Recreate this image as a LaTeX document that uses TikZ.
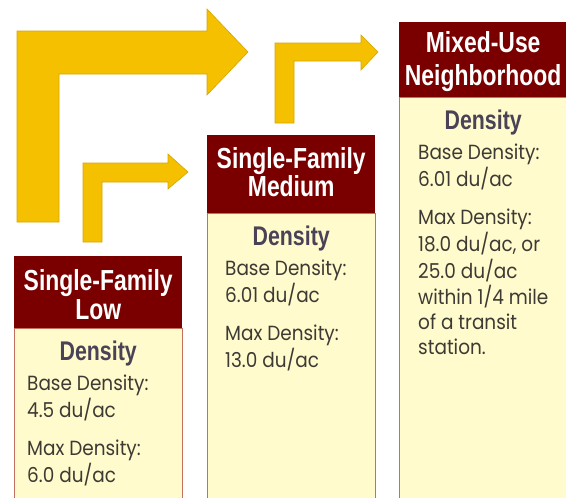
\documentclass[tikz,border=0pt]{standalone}
\usepackage{fontspec}
\newfontfamily\headfont[FakeStretch=0.79]{Liberation Sans}
\newfontfamily\infofont[FakeStretch=0.9]{Poppins}
\usetikzlibrary{positioning}
\definecolor{maroon}{HTML}{7A0000}
\definecolor{cream}{HTML}{FFFBCC}
\definecolor{panelline}{HTML}{C4705F}
\definecolor{arrowfill}{HTML}{F5C000}
\definecolor{arrowline}{HTML}{D6A600}
\definecolor{denscol}{HTML}{4A4257}
\definecolor{infocol}{HTML}{3D3A35}
% lines of a panel, baseline at the first line
\newcommand\infolines[1]{\begin{tabular}[t]{@{}l@{}}#1\end{tabular}}
\newcommand\headlines[1]{\begin{tabular}[t]{@{}c@{}}#1\end{tabular}}

\begin{document}
\begin{tikzpicture}[x=1pt, y=-1pt,
    head/.style={fill=maroon, inner sep=0pt, minimum width=168pt, anchor=north west},
    title/.style={text=white, font=\headfont\bfseries\fontsize{29}{29}\selectfont, inner sep=0pt, anchor=base},
    panel/.style={draw=panelline, fill=cream, line width=0.8pt, inner sep=0pt,
      minimum width=168pt, minimum height=420pt, anchor=north west},
    dens/.style={text=denscol, font=\headfont\bfseries\fontsize{27}{30}\selectfont, inner sep=0pt, anchor=base},
    info/.style={text=infocol, font=\infofont\fontsize{20.5}{25}\selectfont, inner sep=0pt, anchor=base west},
    bentarrow/.style={fill=arrowfill, draw=arrowline, line width=0.6pt}]
  \useasboundingbox (0,0) rectangle (566,498);
  \clip (0,0) rectangle (566,498);

  % bent arrows
  \filldraw[bentarrow] (17,222) -- (17,31) -- (207,31) -- (207,9) -- (248,52) -- (207,95)
    -- (207,74) -- (59,74) -- (59,222) -- cycle;
  \filldraw[bentarrow] (275,123) -- (275,43) -- (361,43) -- (361,35) -- (378,52) -- (361,70)
    -- (361,61) -- (294,61) -- (294,123) -- cycle;
  \filldraw[bentarrow] (83,242) -- (83,163) -- (168,163) -- (168,154) -- (188,172) -- (168,189)
    -- (168,182) -- (102,182) -- (102,242) -- cycle;

  % single-family low
  \node[head, minimum height=72pt] (lowhead) at (14,256) {};
  \node[title] (lowtitle) at ([shift={(0,34)}]lowhead.north) {\headlines{Single-Family\\Low}};
  \node[panel] (lowpanel) at (lowhead.south west) {};
  \node[dens, below=32pt of lowhead.south, anchor=base] (lowdens) {Density};
  \node[info] (lowbase) at ([shift={(13,62)}]lowhead.south west) {\infolines{Base Density:\\4.5 du/ac}};
  \node[info] (lowmax) at ([shift={(13,127)}]lowhead.south west) {\infolines{Max Density:\\6.0 du/ac}};

  % single-family medium
  \node[head, minimum height=78pt] (medhead) at (207,135) {};
  \node[title] (medtitle) at ([shift={(0,33)}]medhead.north) {\headlines{Single-Family\\[-1pt]Medium}};
  \node[panel] (medpanel) at (medhead.south west) {};
  \node[dens, below=32pt of medhead.south, anchor=base] (meddens) {Density};
  \node[info] (medbase) at ([shift={(18,62)}]medhead.south west) {\infolines{Base Density:\\6.01 du/ac}};
  \node[info] (medmax) at ([shift={(18,127)}]medhead.south west) {\infolines{Max Density:\\13.0 du/ac}};

  % mixed-use neighborhood
  \node[head, minimum height=75pt] (mixhead) at (399,22) {};
  \node[title] (mixtitle) at ([shift={(0,30)}]mixhead.north) {\headlines{Mixed-Use\\[4pt]Neighborhood}};
  \node[panel] (mixpanel) at (mixhead.south west) {};
  \node[dens, below=32pt of mixhead.south, anchor=base] (mixdens) {Density};
  \node[info] (mixbase) at ([shift={(19,62)}]mixhead.south west) {\infolines{Base Density:\\6.01 du/ac}};
  \node[info] (mixmax) at ([shift={(19,127)}]mixhead.south west)
    {\infolines{Max Density:\\18.0 du/ac, or\\25.0 du/ac\\within 1/4 mile\\of a transit\\station.}};
\end{tikzpicture}
\end{document}
